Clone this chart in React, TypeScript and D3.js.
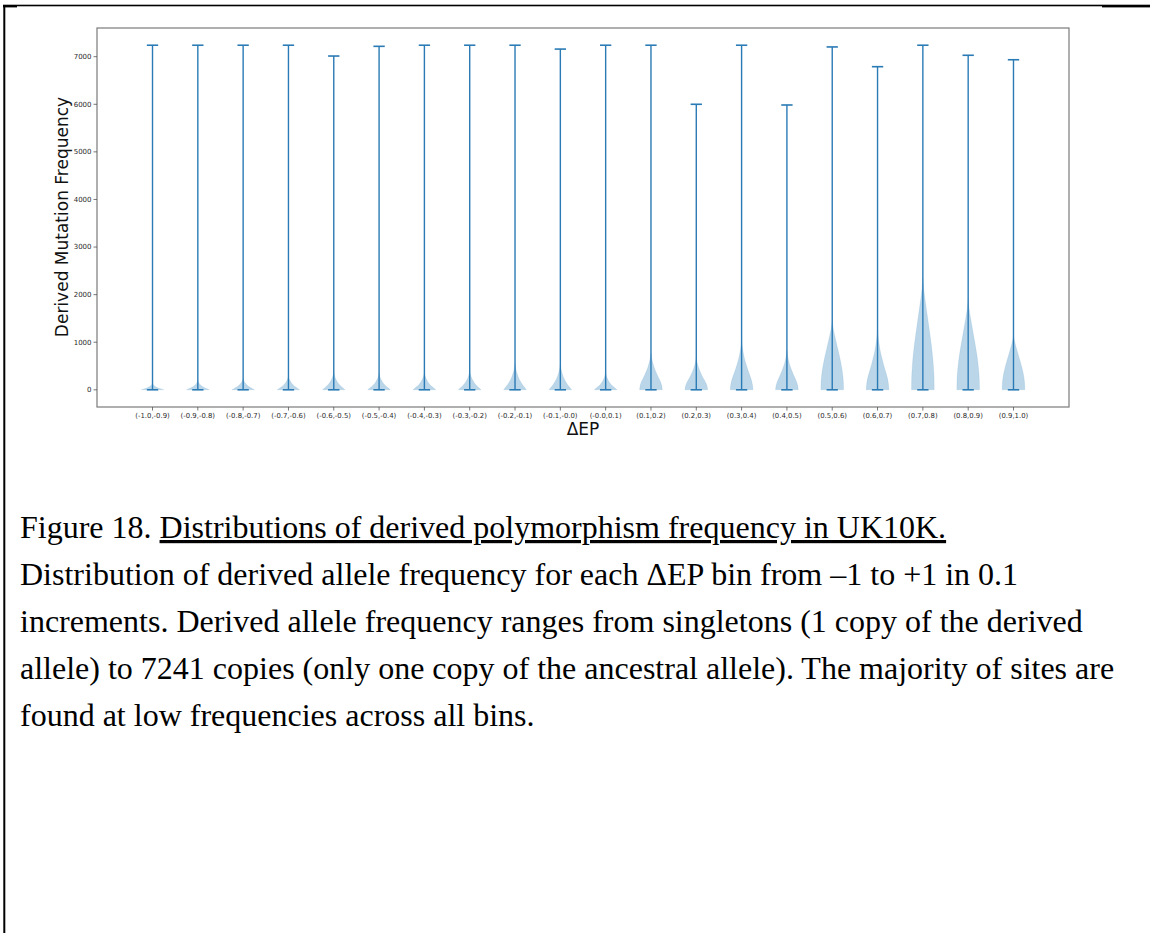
import React from "react";
import * as d3 from "d3";

// ΔEP bins, one violin per bin
const binLabels = [
  "(-1.0,-0.9)", "(-0.9,-0.8)", "(-0.8,-0.7)", "(-0.7,-0.6)", "(-0.6,-0.5)",
  "(-0.5,-0.4)", "(-0.4,-0.3)", "(-0.3,-0.2)", "(-0.2,-0.1)", "(-0.1,-0.0)",
  "(-0.0,0.1)", "(0.1,0.2)", "(0.2,0.3)", "(0.3,0.4)", "(0.4,0.5)",
  "(0.5,0.6)", "(0.6,0.7)", "(0.7,0.8)", "(0.8,0.9)", "(0.9,1.0)",
];

// lowest and highest derived allele count per bin
const minFreq = [1, 1, 1, 1, 1, 1, 1, 1, 1, 1, 1, 1, 1, 1, 1, 1, 1, 1, 1, 1];
const maxFreq = [
  7241, 7241, 7241, 7241, 7014, 7218, 7241, 7241, 7241, 7160,
  7241, 7241, 6000, 7241, 5985, 7205, 6790, 7241, 7030, 6936,
];

// frequency where each density body has thinned out to nothing
const bodyTop = [
  130, 190, 235, 290, 370, 350, 360, 400, 560, 540,
  360, 780, 690, 1050, 830, 1450, 1280, 2350, 1900, 1150,
];

// density shape family per bin
const bodyShape = [
  "tent", "tent", "tent", "tent", "tent", "tent", "tent", "tent", "tent", "tent",
  "tent", "mid", "mid", "mid", "mid", "bell", "mid", "bell", "bell", "bell",
];

// relative density at evenly spaced fractions of the body height
const shapeSteps = [0, 0.1, 0.2, 0.3, 0.4, 0.5, 0.6, 0.7, 0.8, 0.9, 1];
const shapeProfiles: Record<string, number[]> = {
  tent: [1.0, 0.82, 0.64, 0.49, 0.37, 0.27, 0.19, 0.12, 0.07, 0.03, 0],
  mid: [1.0, 0.96, 0.86, 0.71, 0.55, 0.41, 0.28, 0.18, 0.1, 0.04, 0],
  bell: [1.0, 0.99, 0.94, 0.86, 0.75, 0.62, 0.48, 0.34, 0.2, 0.08, 0],
};

const freqTicks = [0, 1000, 2000, 3000, 4000, 5000, 6000, 7000];

const captionLines = [
  "Distribution of derived allele frequency for each \u0394EP bin from \u20131 to +1 in 0.1",
  "increments. Derived allele frequency ranges from singletons (1 copy of the derived",
  "allele) to 7241 copies (only one copy of the ancestral allele). The majority of sites are",
  "found at low frequencies across all bins.",
];

const W = 1150;
const H = 933;
const plot = { left: 97, right: 1069, top: 28, bottom: 407 };
const violinWidth = 0.5;
const blue = "#2a7ab5";
const sans = "'DejaVu Sans', sans-serif";
const serif = "'Liberation Serif', 'Times New Roman', serif";

export default function App() {
  const positions = binLabels.map((_, i) => i + 1);

  // axis limits with 5% padding around the data, like the plotting library
  const xLo = d3.min(positions)! - violinWidth / 2;
  const xHi = d3.max(positions)! + violinWidth / 2;
  const xPad = (xHi - xLo) * 0.05;
  const x = d3.scaleLinear().domain([xLo - xPad, xHi + xPad]).range([plot.left, plot.right]);

  const yLo = d3.min(minFreq)!;
  const yHi = d3.max(maxFreq)!;
  const yPad = (yHi - yLo) * 0.05;
  const y = d3.scaleLinear().domain([yLo - yPad, yHi + yPad]).range([plot.bottom, plot.top]);

  const halfBody = x(violinWidth / 2) - x(0);
  const halfCap = x(violinWidth / 4) - x(0);

  const bodies = positions.map((p, i) => {
    const prof = shapeProfiles[bodyShape[i]];
    const pts = shapeSteps.map((t, k) => ({
      v: minFreq[i] + t * (bodyTop[i] - minFreq[i]),
      w: prof[k],
    }));
    const cx = x(p);
    const area = d3
      .area<{ v: number; w: number }>()
      .x0((d) => cx - d.w * halfBody)
      .x1((d) => cx + d.w * halfBody)
      .y((d) => y(d.v))
      .curve(d3.curveMonotoneY);
    return area(pts) || "";
  });

  const captionTop = 538;
  const lineGap = 47;

  return (
    <svg
      width={W}
      height={H}
      style={{ position: "absolute", left: 0, top: 0, display: "block", background: "#fff" }}
    >
      {/* page border */}
      <rect x={3} y={4.7} width={W - 3} height={1.6} fill="#000" />
      <rect x={3} y={5} width={14} height={2.4} fill="#000" />
      <rect x={1102} y={5} width={48} height={2.4} fill="#000" />
      <rect x={3.3} y={5} width={2} height={H - 5} fill="#000" />

      {/* violin bodies */}
      <g>
        {bodies.map((d, i) => (
          <path key={i} d={d} fill="#1f77b4" fillOpacity={0.3} stroke="#1f77b4" strokeOpacity={0.12} strokeWidth={0.8} />
        ))}
      </g>

      {/* extrema bars and caps */}
      <g stroke={blue} strokeWidth={1.4} fill="none">
        {positions.map((p, i) => {
          const cx = x(p);
          return (
            <g key={i}>
              <line x1={cx} x2={cx} y1={y(minFreq[i])} y2={y(maxFreq[i])} />
              <line x1={cx - halfCap} x2={cx + halfCap} y1={y(maxFreq[i])} y2={y(maxFreq[i])} strokeWidth={1.6} />
              <line x1={cx - halfCap} x2={cx + halfCap} y1={y(minFreq[i])} y2={y(minFreq[i])} strokeWidth={1.6} />
            </g>
          );
        })}
      </g>

      {/* frame */}
      <rect
        x={plot.left}
        y={plot.top}
        width={plot.right - plot.left}
        height={plot.bottom - plot.top}
        fill="none"
        stroke="#7a7a7a"
        strokeWidth={1.2}
      />

      {/* y axis */}
      <g fontFamily={sans} fontSize={7} fill="#2a2a2a">
        {freqTicks.map((t) => (
          <g key={t}>
            <line x1={plot.left - 3.5} x2={plot.left} y1={y(t)} y2={y(t)} stroke="#555" strokeWidth={0.8} />
            <text x={plot.left - 5.5} y={y(t)} dy="0.33em" textAnchor="end">
              {t}
            </text>
          </g>
        ))}
      </g>

      {/* x axis */}
      <g fontFamily={sans} fontSize={6.9} fill="#2a2a2a">
        {positions.map((p, i) => (
          <g key={i}>
            <line x1={x(p)} x2={x(p)} y1={plot.bottom} y2={plot.bottom + 3.5} stroke="#555" strokeWidth={0.8} />
            <text x={x(p)} y={plot.bottom + 10.5} textAnchor="middle">
              {binLabels[i]}
            </text>
          </g>
        ))}
      </g>

      {/* axis titles */}
      <text
        transform={`translate(67.5, 217) rotate(-90)`}
        textAnchor="middle"
        fontFamily={sans}
        fontSize={17}
        fill="#111"
      >
        Derived Mutation Frequency
      </text>
      <text x={(plot.left + plot.right) / 2} y={435} textAnchor="middle" fontFamily={sans} fontSize={17} fill="#111">
        {"\u0394EP"}
      </text>

      {/* caption */}
      <g fontFamily={serif} fontSize={32} fill="#000">
        <text x={20} y={captionTop}>
          {"Figure 18. "}
          <tspan textDecoration="underline" style={{ textDecoration: "underline" }}>
            Distributions of derived polymorphism frequency in UK10K.
          </tspan>
        </text>
        {captionLines.map((line, i) => (
          <text key={i} x={20} y={captionTop + (i + 1) * lineGap}>
            {line}
          </text>
        ))}
      </g>
    </svg>
  );
}
